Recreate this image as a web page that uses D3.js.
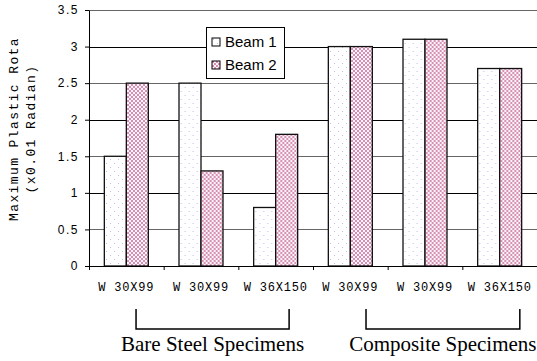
<!DOCTYPE html>
<html lang="en">
<head>
  <title>Plastic Rotation</title>
  <meta charset="UTF-8" />
  <script src="https://cdn.jsdelivr.net/npm/d3@7"></script>
  <style>
    body
      {
      margin: 0;
      background-color: #ffffff;
      }
    .mono
      {
      font-family: "Liberation Mono", "Courier New", monospace;
      }
  </style>
</head>
<body>
<div id="chart"></div>

<script>
const categories = ["W 30X99", "W 30X99", "W 36X150", "W 30X99", "W 30X99", "W 36X150"];
const beam1 = [1.5, 2.5, 0.8, 3.0, 3.1, 2.7];
const beam2 = [2.5, 1.3, 1.8, 3.0, 3.1, 2.7];
const seriesNames = ["Beam 1", "Beam 2"];
const yTicks = [0, 0.5, 1, 1.5, 2, 2.5, 3, 3.5];
const groups = [
  { label: "Bare Steel Specimens", from: 0.63, to: 2.68 },
  { label: "Composite Specimens", from: 3.71, to: 5.77 }
];

const W = 537, H = 361;
const margin = { top: 10, right: 0, bottom: 95, left: 89 },
      width = W - margin.left - margin.right,
      height = H - margin.top - margin.bottom;

const svg = d3.select("#chart").append("svg")
  .attr("width", W)
  .attr("height", H);

// fill patterns
const defs = svg.append("defs");
const p1 = defs.append("pattern")
  .attr("id", "dots")
  .attr("patternUnits", "userSpaceOnUse")
  .attr("width", 8).attr("height", 8);
p1.append("rect").attr("width", 8).attr("height", 8).attr("fill", "#ffffff");
[[1, 1], [5, 5]].forEach(([px, py]) =>
  p1.append("rect").attr("x", px).attr("y", py).attr("width", 1).attr("height", 1).attr("fill", "#c4bcf0"));

const p2 = defs.append("pattern")
  .attr("id", "check")
  .attr("patternUnits", "userSpaceOnUse")
  .attr("width", 4).attr("height", 4);
p2.append("rect").attr("width", 4).attr("height", 4).attr("fill", "#fbf4f8");
p2.append("rect").attr("width", 2).attr("height", 2).attr("fill", "#d690b4");
p2.append("rect").attr("x", 2).attr("y", 2).attr("width", 2).attr("height", 2).attr("fill", "#d690b4");

const fills = ["url(#dots)", "url(#check)"];

const g = svg.append("g")
  .attr("transform", `translate(${margin.left},${margin.top})`);

const x = d3.scaleBand()
  .domain(d3.range(categories.length))
  .range([0, width]);

const xs = d3.scaleBand()
  .domain([0, 1])
  .range([x.bandwidth() / 2 - 22, x.bandwidth() / 2 + 22]);

const y = d3.scaleLinear()
  .domain([0, 3.5])
  .range([height, 0]);

// gridlines
g.append("g")
  .selectAll("line")
  .data(yTicks.filter(d => d > 0))
  .join("line")
  .attr("x1", 0)
  .attr("x2", width)
  .attr("y1", d => Math.round(y(d)) + 0.5)
  .attr("y2", d => Math.round(y(d)) + 0.5)
  .attr("stroke", d => (d * 2) % 2 === 1 ? "#666" : "#000")
  .attr("stroke-width", 1);

// bars
const data = categories.map((c, i) => ({ i, values: [beam1[i], beam2[i]] }));

g.append("g")
  .selectAll("g")
  .data(data)
  .join("g")
  .attr("transform", d => `translate(${x(d.i)},0)`)
  .selectAll("rect")
  .data(d => d.values.map((v, s) => ({ v, s })))
  .join("rect")
  .attr("x", d => xs(d.s))
  .attr("y", d => y(d.v))
  .attr("width", xs.bandwidth())
  .attr("height", d => height - y(d.v))
  .attr("fill", d => fills[d.s])
  .attr("stroke", "#111")
  .attr("stroke-width", 1.3);

// y axis
const yAxis = g.append("g")
  .call(d3.axisLeft(y).tickValues(yTicks).tickSize(4).tickSizeOuter(0).tickFormat(d3.format("")));
yAxis.select(".domain").attr("stroke", "#000");
yAxis.selectAll("text")
  .attr("x", -10)
  .attr("font-family", "Arial, 'Liberation Sans', sans-serif")
  .attr("font-size", 12)
  .attr("letter-spacing", 1.5)
  .attr("fill", "#000");

// x axis, ticks on the band boundaries
const u = d3.scaleLinear().domain([0, categories.length]).range([0, width]);
const xAxis = g.append("g")
  .attr("transform", `translate(0,${height})`)
  .call(d3.axisBottom(u)
    .tickValues(d3.range(categories.length + 1))
    .tickSize(4).tickSizeOuter(0).tickFormat(""));
xAxis.select(".domain").attr("stroke", "#000");

g.append("g")
  .selectAll("text")
  .data(categories)
  .join("text")
  .attr("class", "mono")
  .attr("x", (d, i) => x(i) + x.bandwidth() / 2)
  .attr("y", height + 25)
  .attr("text-anchor", "middle")
  .attr("font-size", 12)
  .attr("letter-spacing", 0.8)
  .text(d => d);

// y title
const ty = g.append("text")
  .attr("class", "mono")
  .attr("transform", `translate(${-margin.left + 18},${height / 2 - 9}) rotate(-90)`)
  .attr("text-anchor", "middle")
  .attr("font-size", 13)
  .attr("letter-spacing", 1.4);
ty.append("tspan").attr("x", 0).attr("dy", 0).text("Maximum Plastic Rota");
ty.append("tspan").attr("x", 0).attr("dy", 17).text("(x0.01 Radian)");

// group brackets
const br = g.append("g");
br.selectAll("path")
  .data(groups)
  .join("path")
  .attr("d", d => `M${u(d.from)},${height + 43}V${height + 63}H${u(d.to)}V${height + 43}`)
  .attr("fill", "none")
  .attr("stroke", "#000")
  .attr("stroke-width", 1.5);
br.selectAll("text")
  .data(groups)
  .join("text")
  .attr("x", d => (u(d.from) + u(d.to)) / 2)
  .attr("y", height + 85)
  .attr("text-anchor", "middle")
  .attr("font-family", "'Liberation Serif', 'Times New Roman', serif")
  .attr("font-size", 21)
  .text(d => d.label);

// legend
const lg = g.append("g").attr("transform", `translate(${206 - margin.left},${27 - margin.top})`);
lg.append("rect")
  .attr("x", 0.5).attr("y", 0.5)
  .attr("width", 78).attr("height", 51)
  .attr("fill", "#fff")
  .attr("stroke", "#000");
const items = lg.selectAll("g")
  .data(seriesNames)
  .join("g")
  .attr("transform", (d, i) => `translate(6,${11 + i * 23})`);
items.append("rect")
  .attr("width", 8).attr("height", 8)
  .attr("fill", (d, i) => fills[i])
  .attr("stroke", "#000");
items.append("text")
  .attr("x", 13)
  .attr("y", 9)
  .attr("font-family", "Arial, 'Liberation Sans', sans-serif")
  .attr("font-size", 15)
  .text(d => d);
</script>
</body>
</html>
